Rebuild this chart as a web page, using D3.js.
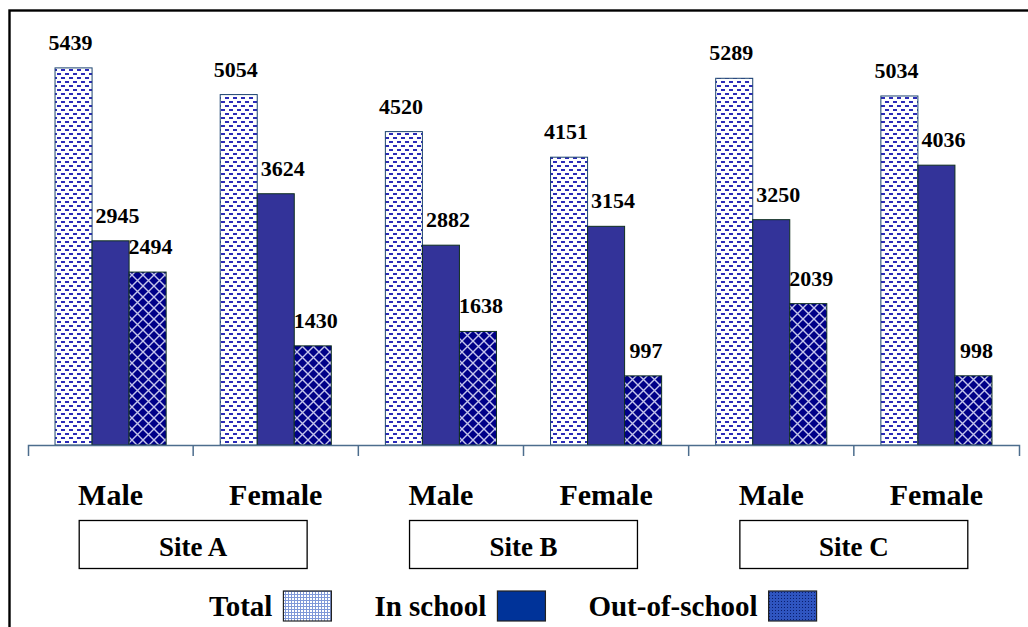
<!DOCTYPE html>
<html>
<head>
<meta charset="utf-8">
<script src="https://cdn.jsdelivr.net/npm/d3@7"></script>
<style>
  html, body { margin: 0; padding: 0; background: #fff; }
  svg { display: block; }
  text { font-family: "Liberation Serif", "Times New Roman", serif; font-weight: bold; fill: #000; }
</style>
</head>
<body>
<script>
// ---- data ----
const sites = ["Site A", "Site B", "Site C"];
const genders = ["Male", "Female"];
const series = ["Total", "In school", "Out-of-school"];
const totalValues = [5439, 5054, 4520, 4151, 5289, 5034];
const inSchoolValues = [2945, 3624, 2882, 3154, 3250, 4036];
const outSchoolValues = [2494, 1430, 1638, 997, 2039, 998];
const yMax = 6000;

// ---- build table ----
const categories = [];
sites.forEach(s => genders.forEach(g => categories.push(s + "|" + g)));
const seriesValues = [totalValues, inSchoolValues, outSchoolValues];
const rows = [];
categories.forEach((c, i) => series.forEach((s, j) => rows.push({cat: c, series: s, value: seriesValues[j][i]})));

const W = 1028, H = 627;
const svg = d3.select("body").append("svg").attr("width", W).attr("height", H);

// patterns
const defs = svg.append("defs");
const pTotal = defs.append("pattern").attr("id", "pTotal").attr("patternUnits", "userSpaceOnUse")
  .attr("width", 8).attr("height", 8);
pTotal.append("rect").attr("width", 8).attr("height", 8).attr("fill", "#fff");
pTotal.append("rect").attr("x", 1).attr("y", 1).attr("width", 4).attr("height", 2).attr("fill", "#2b2bb8");
pTotal.append("rect").attr("x", 5).attr("y", 5).attr("width", 3).attr("height", 2).attr("fill", "#2b2bb8");
pTotal.append("rect").attr("x", 0).attr("y", 5).attr("width", 1).attr("height", 2).attr("fill", "#2b2bb8");

const pOut = defs.append("pattern").attr("id", "pOut").attr("patternUnits", "userSpaceOnUse")
  .attr("width", 11).attr("height", 11);
pOut.append("rect").attr("width", 11).attr("height", 11).attr("fill", "#000088");
pOut.append("path").attr("d", "M0,0L11,11M11,0L0,11").attr("stroke", "#c4c4ec").attr("stroke-width", 1.4).attr("fill", "none");

const pLegTotal = defs.append("pattern").attr("id", "pLegTotal").attr("patternUnits", "userSpaceOnUse")
  .attr("width", 3).attr("height", 3);
pLegTotal.append("rect").attr("width", 3).attr("height", 3).attr("fill", "#ffffff");
pLegTotal.append("path").attr("d", "M0,0.5H3M0.5,0V3").attr("stroke", "#7f98d8").attr("stroke-width", 1);

const pLegOut = defs.append("pattern").attr("id", "pLegOut").attr("patternUnits", "userSpaceOnUse")
  .attr("width", 3).attr("height", 3);
pLegOut.append("rect").attr("width", 3).attr("height", 3).attr("fill", "#2f55c0");
pLegOut.append("rect").attr("x", 1).attr("y", 1).attr("width", 1).attr("height", 1).attr("fill", "#0a1f70");

const fills = {"Total": "url(#pTotal)", "In school": "#333399", "Out-of-school": "url(#pOut)"};
const strokes = {"Total": "#1d4470", "In school": "#0f2f1f", "Out-of-school": "#0f2f1f"};
const legendFills = {"Total": "url(#pLegTotal)", "In school": "#003399", "Out-of-school": "url(#pLegOut)"};

// frame
svg.append("rect").attr("x", 9.5).attr("y", 10.5).attr("width", 1200).attr("height", 1000)
  .attr("fill", "none").attr("stroke", "#000").attr("stroke-width", 2.4);

// scales
const x0 = d3.scaleBand().domain(categories).range([28, 1019]).paddingInner(0).paddingOuter(0);
const x1 = d3.scaleBand().domain(series).range([0, x0.bandwidth()]).paddingInner(0).paddingOuter(0.73);
const y = d3.scaleLinear().domain([0, yMax]).range([445, 29]);

// bars
svg.append("g").selectAll("rect").data(rows).join("rect")
  .attr("x", d => x0(d.cat) + x1(d.series))
  .attr("y", d => y(d.value))
  .attr("width", x1.bandwidth())
  .attr("height", d => y(0) - y(d.value))
  .attr("fill", d => fills[d.series])
  .attr("stroke", d => strokes[d.series])
  .attr("stroke-width", 1);

// value labels
const labelDx = {"Total": -3, "In school": 7, "Out-of-school": 3};
svg.append("g").selectAll("text").data(rows).join("text")
  .attr("x", d => x0(d.cat) + x1(d.series) + x1.bandwidth() / 2 + labelDx[d.series])
  .attr("y", d => y(d.value) - 18)
  .attr("text-anchor", "middle")
  .style("font-size", "22px")
  .text(d => d.value);

// axis
const axisG = svg.append("g").attr("transform", `translate(0,${y(0)})`)
  .call(d3.axisBottom(x0).tickSize(0).tickSizeOuter(11).tickFormat(""));
axisG.select(".domain").attr("stroke", "#4d6d8d").attr("stroke-width", 1.5);
axisG.selectAll(".tick").remove();
svg.append("g").selectAll("line").data(categories.slice(1)).join("line")
  .attr("x1", d => x0(d)).attr("x2", d => x0(d))
  .attr("y1", y(0)).attr("y2", y(0) + 11)
  .attr("stroke", "#4d6d8d").attr("stroke-width", 1.5);

// gender labels
svg.append("g").selectAll("text").data(categories).join("text")
  .attr("x", d => x0(d) + x0.bandwidth() / 2)
  .attr("y", 505)
  .attr("text-anchor", "middle")
  .style("font-size", "30px")
  .text(d => d.split("|")[1]);

// site boxes
const boxW = x0.bandwidth() * 1.38;
const siteG = svg.append("g").selectAll("g").data(sites).join("g")
  .attr("transform", d => `translate(${x0(d + "|" + genders[1])},0)`);
siteG.append("rect").attr("x", -boxW / 2).attr("y", 520.5).attr("width", boxW).attr("height", 48)
  .attr("fill", "#fff").attr("stroke", "#000").attr("stroke-width", 1.3);
siteG.append("text").attr("x", 0).attr("y", 556).attr("text-anchor", "middle")
  .style("font-size", "27px").text(d => d);

// legend
const leg = svg.append("g");
let lx = 209;
series.forEach(s => {
  const t = leg.append("text").attr("x", lx).attr("y", 616).style("font-size", "29px").text(s);
  lx += t.node().getComputedTextLength() + 11;
  leg.append("rect").attr("x", lx).attr("y", 591).attr("width", 48).attr("height", 30)
    .attr("fill", legendFills[s]).attr("stroke", "#222").attr("stroke-width", 1.2);
  lx += 48 + 43;
});
</script>
</body>
</html>
